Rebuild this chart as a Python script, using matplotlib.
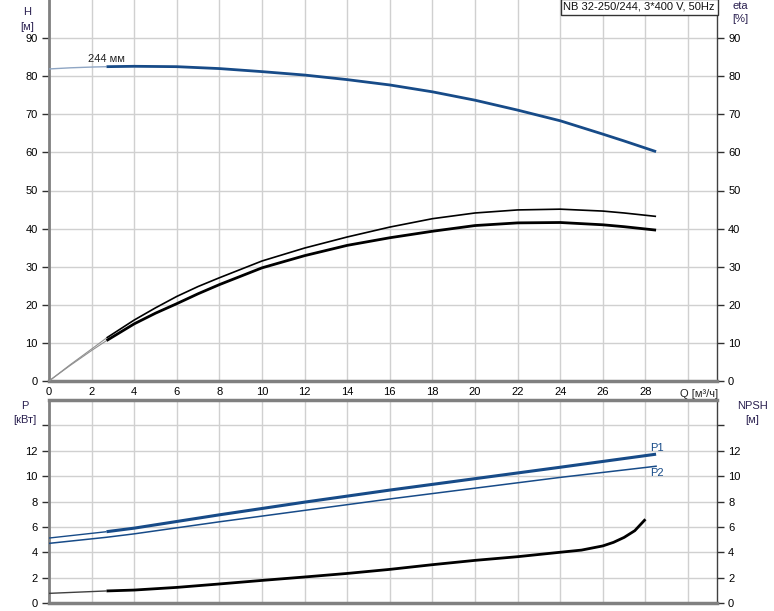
import matplotlib
matplotlib.use("Agg")
import matplotlib.pyplot as plt
import numpy as np

plt.rcParams['font.family'] = ['Liberation Sans', 'DejaVu Sans']

# ---------------- data ----------------
q_h = [0, 1, 2, 2.7, 4, 6, 8, 10, 12, 14, 16, 18, 20, 22, 24, 26, 27, 28.5]
head = [81.9, 82.2, 82.4, 82.5, 82.6, 82.5, 82.0, 81.2, 80.3, 79.1, 77.7, 75.9, 73.7, 71.1, 68.3, 64.8, 63.0, 60.2]

q_eta = [0, 1, 2, 2.7, 4, 5, 6, 7, 8, 10, 12, 14, 16, 18, 20, 22, 24, 26, 27, 28.5]
eta_pump = [0, 4.3, 8.4, 11.3, 16.0, 19.2, 22.2, 24.8, 27.1, 31.5, 34.9, 37.8, 40.4, 42.6, 44.1, 44.9, 45.1, 44.6, 44.1, 43.2]
eta_total = [0, 4.1, 8.0, 10.6, 15.0, 17.8, 20.3, 22.9, 25.3, 29.7, 32.9, 35.6, 37.6, 39.3, 40.8, 41.5, 41.6, 41.0, 40.5, 39.6]

q_p = [0, 2.7, 4, 8, 12, 16, 20, 24, 28.5]
p1 = [5.12, 5.62, 5.9, 6.95, 7.95, 8.9, 9.8, 10.7, 11.73]
p2 = [4.70, 5.18, 5.45, 6.4, 7.3, 8.2, 9.05, 9.9, 10.78]

q_npsh = [0, 2.7, 4, 6, 8, 10, 12, 14, 16, 18, 20, 22, 24, 25, 26, 26.5, 27, 27.5, 28]
npsh = [0.76, 0.95, 1.02, 1.23, 1.5, 1.78, 2.05, 2.33, 2.65, 3.02, 3.36, 3.65, 4.0, 4.17, 4.5, 4.78, 5.17, 5.7, 6.6]

x_ticks = [0, 2, 4, 6, 8, 10, 12, 14, 16, 18, 20, 22, 24, 26, 28]
top_yticks = [0, 10, 20, 30, 40, 50, 60, 70, 80, 90]
bot_yticks = [0, 2, 4, 6, 8, 10, 12, 14]
bot_ylabels = ['0', '2', '4', '6', '8', '10', '12', '']

title_text = "NB 32-250/244, 3*400 V, 50Hz"
curve_label = "244 мм"
q_start_bold = 2.7

# ---------------- style ----------------
BLUE = '#174b88'
GRID = '#d0d0d0'
SPINE = '#808080'
FS = 8

W, H = 774, 611
fig = plt.figure(figsize=(W / 100, H / 100), dpi=100)

L = 49 / W
R = 717 / W
ax1 = fig.add_axes([L, 1 - 381 / H, R - L, 381 / H])
ax2 = fig.add_axes([L, 1 - 603 / H, R - L, (603 - 400) / H])

xmax = 31.36


def split_plot(ax, x, y, color, lw_thin, lw_bold, thin_color=None):
    x = np.asarray(x, float)
    y = np.asarray(y, float)
    m_thin = x <= q_start_bold
    m_bold = x >= q_start_bold
    ax.plot(x[m_thin], y[m_thin], color=thin_color or color, lw=lw_thin,
            solid_capstyle='butt', zorder=3)
    ax.plot(x[m_bold], y[m_bold], color=color, lw=lw_bold,
            solid_capstyle='butt', solid_joinstyle='round', zorder=4)


def style_axes(ax, ylim, yticks, ylabels=None):
    ax.set_xlim(0, xmax)
    ax.set_ylim(*ylim)
    ax.set_xticks([t for t in x_ticks] + [30])
    ax.set_yticks(yticks)
    ax.grid(True, color=GRID, lw=1.0, zorder=0)
    ax.set_axisbelow(True)
    ax.spines['left'].set_color(SPINE)
    ax.spines['left'].set_linewidth(2.0)
    ax.spines['right'].set_color('#404040')
    ax.spines['right'].set_linewidth(1.0)
    ax.spines['bottom'].set_color(SPINE)
    ax.spines['bottom'].set_linewidth(2.5)
    ax.spines['top'].set_color(SPINE)
    ax.spines['top'].set_linewidth(2.5)
    ax.tick_params(axis='y', which='both', direction='out', length=5, width=1,
                   color='#303030', labelsize=FS, left=True, right=True,
                   labelleft=True, labelright=True, pad=3)
    ax.tick_params(axis='x', length=0, labelsize=FS, pad=4)
    if ylabels is not None:
        ax.set_yticklabels(ylabels)


# top axes
style_axes(ax1, (0, 100), top_yticks)
ax1.spines['top'].set_visible(False)
ax1.set_xticklabels([str(t) for t in x_ticks] + [''])
split_plot(ax1, q_h, head, BLUE, 1.0, 2.0, thin_color='#8fa6c4')
split_plot(ax1, q_eta, eta_pump, 'black', 0.8, 1.2, thin_color='#909090')
split_plot(ax1, q_eta, eta_total, 'black', 0.8, 2.0, thin_color='#909090')
ax1.text(q_h[3], head[3] + 0.8, curve_label, fontsize=FS, ha='center',
         va='bottom', color='#222222')
ax1.text(30.5, -2.2, "Q [м³/ч]", fontsize=FS, ha='center', va='top',
         color='#222222', clip_on=False)

ax1.text(0.997, 0.995, title_text, transform=ax1.transAxes, ha='right',
         va='top', fontsize=FS, color='#111111',
         bbox=dict(boxstyle='square,pad=0.25', fc='white', ec='#333333', lw=1.0),
         zorder=10)

# bottom axes
style_axes(ax2, (0, 16), bot_yticks, bot_ylabels)
ax2.set_xticklabels([])
split_plot(ax2, q_p, p1, BLUE, 1.0, 2.2)
ax2.plot(q_p, p2, color=BLUE, lw=1.1, zorder=4)
split_plot(ax2, q_npsh, npsh, 'black', 1.0, 2.0, thin_color='#404040')
ax2.text(q_p[-1] - 0.3, p1[-1] + 0.1, "P1", fontsize=FS, color=BLUE,
         ha='left', va='bottom')
ax2.text(q_p[-1] - 0.3, p2[-1] - 0.15, "P2", fontsize=FS, color=BLUE,
         ha='left', va='top')

# axis titles
lab = dict(fontsize=FS, color='#2a2050', ha='center', va='center')
fig.text(27 / W, 1 - 12 / H, "H", **lab)
fig.text(27 / W, 1 - 27 / H, "[м]", **lab)
fig.text(740 / W, 1 - 6 / H, "eta", **lab)
fig.text(740 / W, 1 - 19 / H, "[%]", **lab)
fig.text(25 / W, 1 - 406 / H, "P", **lab)
fig.text(25 / W, 1 - 420 / H, "[кВт]", **lab)
fig.text(752 / W, 1 - 406 / H, "NPSH", **lab)
fig.text(752 / W, 1 - 420 / H, "[м]", **lab)

fig.savefig("out.png", dpi=100)
